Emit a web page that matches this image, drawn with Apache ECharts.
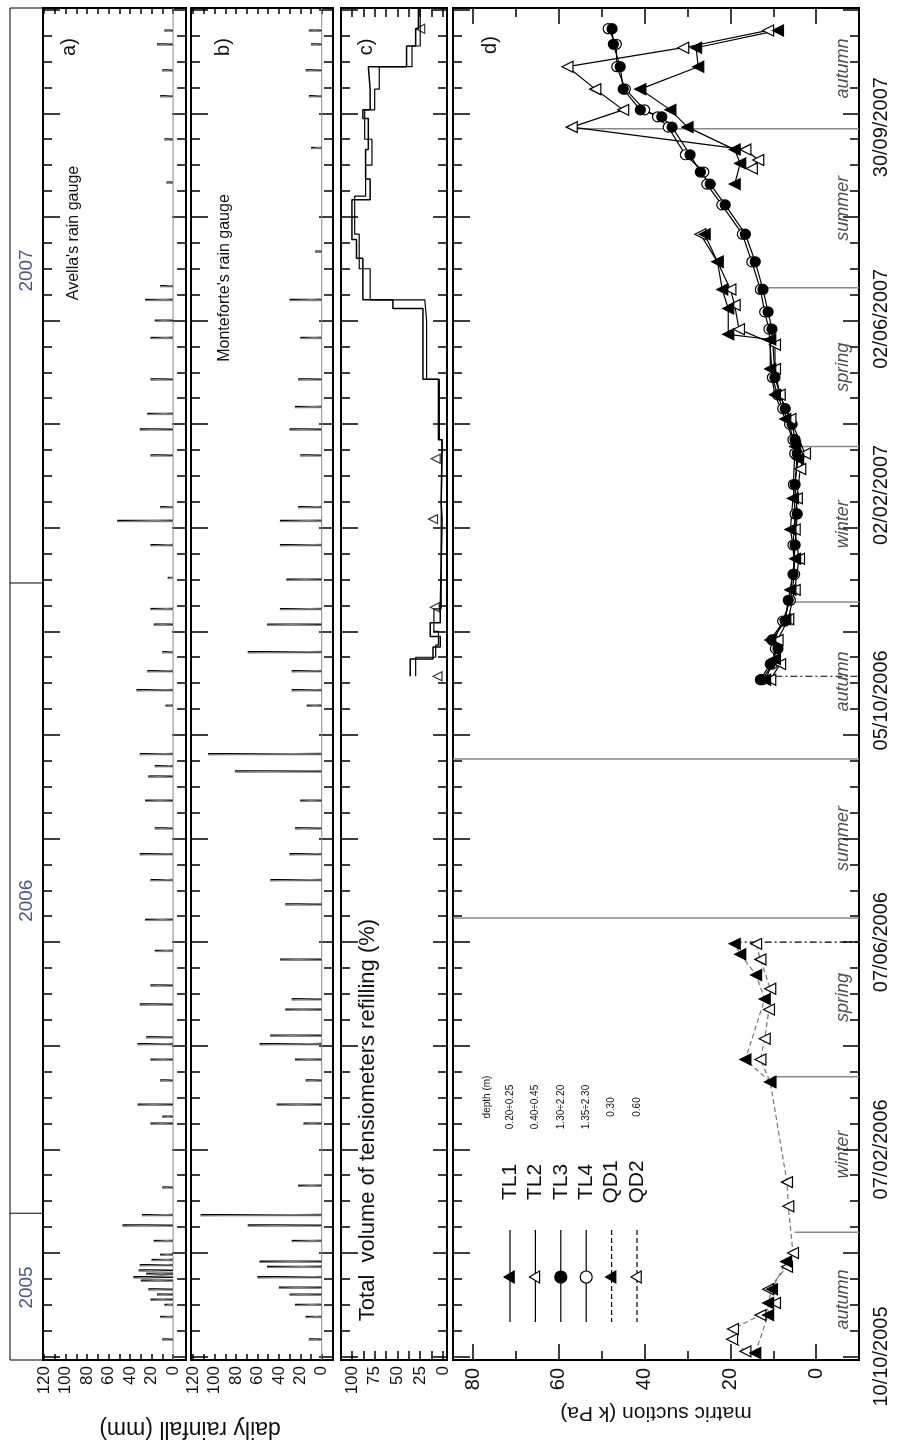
<!DOCTYPE html>
<html>
<head>
<meta charset="utf-8">
<title>Rainfall, refilling and matric suction</title>
<script src="https://cdn.jsdelivr.net/npm/echarts@6/dist/echarts.min.js"></script>
<style>html,body{margin:0;padding:0;background:#fff;} #chart{width:897px;height:1441px;}</style>
</head>
<body>
<div id="chart"></div>
<script>
// ---------------- DATA (days counted from 10/10/2005) ----------------
const dateLabels = ['10/10/2005', '07/02/2006', '07/06/2006', '05/10/2006', '02/02/2007', '02/06/2007', '30/09/2007'];
const dateLabelPos = [0, 120, 240, 380, 499, 601, 712];   // where the printed labels sit on the time axis
const yearNames = ['2005', '2006', '2007'];
const yearBoundaryDays = [83, 448];
const yearLabelDays = [40, 264, 629];
const rainTicks = [0, 20, 40, 60, 80, 100, 120];
const refillTicks = [0, 25, 50, 75, 100];
const suctionTicks = [0, 20, 40, 60, 80];
const seasonNames = ['autumn', 'winter', 'spring', 'summer', 'autumn', 'winter', 'spring', 'summer', 'autumn'];
const seasonMidDays = [33, 117, 208, 300, 391, 482, 573, 665, 746];
const seasonLineDays = [72, 162, 254, 346, 437, 527, 619, 711];
const seasonLineReach = [5, 10, 84.7, 84.7, 6, 5, 13, 57];
const installDays = [240, 394];
const installReach = [19, 13];

// Avella's rain gauge (a)
const avellaDays = [10,23,30,33,36,39,44,46,48,50,53,56,59,67,76,82,98,135,139,146,160,172,181,185,204,215,235,253,276,291,306,322,336,342,349,377,386,397,408,424,433,451,470,484,492,522,537,546,566,590,600,612,620,680,705,730,745,760,768];
const avellaRain = [10,12,8,21,15,23,30,37,25,32,31,20,12,18,47,29,10,21,10,33,12,21,33,25,31,21,17,26,21,31,17,26,23,17,31,7,34,24,10,18,21,5,21,52,12,21,31,24,21,21,17,26,12,6,8,12,10,15,8];
// Monteforte's rain gauge (b)
const montefDays = [10,23,30,36,40,46,52,55,67,76,82,99,135,146,160,172,181,186,201,207,230,262,276,291,306,322,339,349,377,386,397,408,424,433,450,470,484,492,522,537,550,566,590,612,640,700,730,745,760,768];
const montefRain = [12,15,25,30,40,60,51,58,28,69,113,22,17,42,15,25,58,48,34,28,39,34,48,30,25,20,81,106,14,28,28,69,51,39,33,39,39,22,20,30,25,22,20,30,6,10,12,15,10,12];
// total volume of tensiometers refilling (c) : value holds from day[i] to day[i+1]
const refillDays = [394,404,411,417,425,433,485,494,531,566,607,612,636,647,670,682,699,717,722,734,747,759,769,781];
const refillPct  = [36,11,3,14,3,1,2,1,5,22,55,88,95,100,80,85,82,88,80,82,40,30,27];
const refill2Days = [394,405,412,420,433,485,531,566,600,612,630,650,672,690,705,722,734,747,759,781];
const refill2Pct  = [30,8,5,10,2,1,4,18,20,80,92,97,85,78,86,75,70,34,25];
const refillMarkDays = [394,434,485,520,769];
const refillMarkPct  = [6,9,11,8,25];

// matric suction (d)  (null = gap)
const qd1Days = [2,24,31,39,55,null,159,172,207,221,233,239];
const qd1 = [14.2,11.2,11.2,10.3,7,null,10.7,16.5,12,14,17.7,19];
const qd2Days = [3,10,16,24,31,39,52,60,87,101,159,172,184,201,213,230,239];
const qd2 = [16.5,19.6,19.4,13,9.6,11.2,6.8,5.4,6.5,6.8,10.7,13,12,11,10.7,13,14];
const tl1Days = [392,404,415,427,444,462,479,497,520,527,543,557,572,589,592,607,618,634,650,null,679,691,699,712,722,734,747,758,768];
const tl1 = [11.9,9.6,10.7,7.2,6,4.9,6,5.4,4.2,4.9,7.2,9.6,10.7,10.7,20.5,20.5,21.9,23,26,null,19,17.7,19,30,34,41,27.5,28,8.9];
const tl2Days = [392,401,415,427,444,462,479,497,514,523,543,557,572,586,595,609,618,634,650,null,688,693,699,712,722,734,747,758,768];
const tl2 = [10.7,8.4,9,6.5,5,4,5,4.5,3.7,2.6,6,8.5,9.6,9.6,18,19,20,23,27,null,15,13.5,16.5,57,45,51.5,58,31,11.2];
const tl3Days = [392,401,410,415,426,438,453,470,488,505,523,531,540,549,557,567,595,605,618,634,650,667,679,686,696,712,718,722,734,747,760,769];
const tl3 = [13,10.7,8.9,10.3,7.2,6.5,5.4,4.9,4.4,4.9,4.4,4.9,5.6,7.2,8.4,9.6,10.3,11.2,12.4,14.2,16.5,21.2,24.7,27,29.4,33.6,36,41,45,45.7,47.3,47.6];
const tl4Days = [392,401,410,415,426,438,453,470,488,505,523,531,540,549,557,567,595,605,618,634,650,667,679,686,696,712,718,722,734,747,760,769];
const tl4 = [12.5,10.2,9.5,9.8,7.8,6,5,5.4,4.9,5.3,5,5.4,6.2,7.8,9,10.2,11,12,13,15,17.2,22,25.5,26.2,30.5,34.5,37,40,44.5,46.5,46.6,48.5];

const legendNames = ['TL1', 'TL2', 'TL3', 'TL4', 'QD1', 'QD2'];
const legendDepths = ['0.20÷0.25', '0.40÷0.45', '1.30÷2.20', '1.35÷2.30', '0.30', '0.60'];

// ---------------- LAYOUT ----------------
const FONT = 'Liberation Sans, Arial, Helvetica, sans-serif';
const TMIN = -2, TMAX = 781;
const TOP = 8, H = 1352;
const chart = echarts.init(document.getElementById('chart'));

const grids = [
  {left: 10, top: TOP, width: 33, height: H, show: true, borderColor: '#000', borderWidth: 1},
  {left: 43, top: TOP, width: 143, height: H, show: true, borderColor: '#000', borderWidth: 2},
  {left: 191, top: TOP, width: 142, height: H, show: true, borderColor: '#000', borderWidth: 2},
  {left: 341, top: TOP, width: 106, height: H, show: true, borderColor: '#000', borderWidth: 2},
  {left: 453, top: TOP, width: 406, height: H, show: true, borderColor: '#000', borderWidth: 2}
];

function range(a, b, s) { const r = []; for (let v = a; v <= b + 1e-9; v += s) r.push(+v.toFixed(3)); return r; }
const longT = range(0, 780, 60);
const shortT = range(0, 780, 15).filter(d => d % 60 !== 0);

function tAxis(gi, pos, vals, len, extra) {
  return Object.assign({
    gridIndex: gi, type: 'value', min: TMIN, max: TMAX, position: pos,
    axisLine: {show: false, onZero: false}, splitLine: {show: false},
    axisLabel: {show: false},
    axisTick: {show: true, inside: true, length: len, customValues: vals, lineStyle: {color: '#000', width: 1.5}}
  }, extra || {});
}
function vAxis(gi, pos, min, max, ticks, len, labels, extra) {
  return Object.assign({
    gridIndex: gi, type: 'value', inverse: true, min: min, max: max, position: pos,
    axisLine: {show: false, onZero: false}, splitLine: {show: false},
    axisTick: {show: true, inside: true, length: len, customValues: ticks, lineStyle: {color: '#000', width: 1.5}},
    axisLabel: labels ? {show: true, customValues: labels, rotate: 90, fontSize: 17, color: '#111', fontFamily: FONT, margin: 6} : {show: false}
  }, extra || {});
}

const xAxes = [
  {gridIndex: 0, type: 'value', min: 0, max: 1, show: false},
  vAxis(1, 'bottom', -12, 121, range(0, 120, 10), 6, rainTicks),
  vAxis(1, 'top', -12, 121, range(0, 120, 10), 6, null),
  vAxis(2, 'bottom', -10.5, 122, range(0, 120, 10), 6, rainTicks),
  vAxis(2, 'top', -10.5, 122, range(0, 120, 10), 6, null),
  vAxis(3, 'bottom', -4.4, 112, range(0, 100, 12.5), 9, refillTicks),
  vAxis(3, 'top', -4.4, 112, range(0, 100, 12.5), 9, null),
  vAxis(4, 'bottom', -10, 84.7, [0, 20, 40, 60, 80], 16, suctionTicks, {
    name: 'matric suction (k Pa)', nameLocation: 'middle', nameGap: 42, nameRotate: 180,
    nameTextStyle: {fontSize: 21, color: '#111', fontFamily: FONT}
  }),
  vAxis(4, 'bottom', -10, 84.7, [10, 30, 50, 70], 9, null),
  vAxis(4, 'top', -10, 84.7, [0, 20, 40, 60, 80], 16, null),
  vAxis(4, 'top', -10, 84.7, [10, 30, 50, 70], 9, null)
];
xAxes[7].axisLabel.fontSize = 20;
xAxes[7].axisLabel.margin = 8;

const yAxes = [{gridIndex: 0, type: 'value', min: TMIN, max: TMAX, show: false}];
for (let g = 1; g <= 4; g++) {
  yAxes.push(tAxis(g, 'left', longT, 17));
  yAxes.push(tAxis(g, 'left', shortT, 9));
  yAxes.push(tAxis(g, 'right', longT, g === 4 ? 16 : 14));
  yAxes.push(tAxis(g, 'right', shortT, 9));
}
// date labels on the right of panel d
yAxes[1 + 3 * 4 + 2].axisLabel = {
  show: true, customValues: dateLabelPos, rotate: 90, fontSize: 20, color: '#111', fontFamily: FONT, margin: 12,
  formatter: v => { const i = dateLabelPos.findIndex(p => Math.abs(p - v) < 0.01); return i >= 0 ? dateLabels[i] : ''; }
};
const yIdx = g => 1 + (g - 1) * 4;

// ---------- helpers ----------
function pairs(days, vals) {
  return days.map((d, i) => (d === null || vals[i] === null) ? ['-', '-'] : [vals[i], d]);
}
function rainOutline(days, vals) {
  const pts = [[0, TMIN]];
  days.forEach((d, i) => { pts.push([0, d - 0.5], [vals[i], d - 0.5], [vals[i], d + 0.5], [0, d + 0.5]); });
  pts.push([0, TMAX]);
  return pts;
}
function stepPts(days, vals) {
  const pts = [];
  for (let i = 0; i < vals.length; i++) { pts.push([vals[i], days[i]], [vals[i], days[i + 1]]); }
  return pts;
}
function barItem(color, width) {
  return function (params, api) {
    const v = api.value(0), d = api.value(1);
    const p0 = api.coord([0, d]), p1 = api.coord([v, d]);
    return {type: 'line', shape: {x1: p0[0], y1: p0[1], x2: p1[0], y2: p1[1]}, style: {stroke: color, lineWidth: width}};
  };
}
function hLineItem(x0fixed) {
  return function (params, api) {
    const d = api.value(1), reach = api.value(0);
    const p0 = api.coord([reach, d]), p1 = api.coord([x0fixed, d]);
    return {type: 'line', shape: {x1: p0[0], y1: p0[1], x2: p1[0], y2: p1[1]}, style: {stroke: '#888', lineWidth: 1.5}};
  };
}

const series = [];
// year strip
series.push({
  type: 'custom', xAxisIndex: 0, yAxisIndex: 0, silent: true,
  data: yearBoundaryDays.map(d => [0, d]),
  renderItem: (p, api) => {
    const a = api.coord([0, api.value(1)]), b = api.coord([1, api.value(1)]);
    return {type: 'line', shape: {x1: a[0], y1: a[1], x2: b[0], y2: b[1]}, style: {stroke: '#000', lineWidth: 1}};
  }
});
series.push({
  type: 'scatter', xAxisIndex: 0, yAxisIndex: 0, symbolSize: 0, silent: true,
  data: yearNames.map((n, i) => ({value: [0.5, yearLabelDays[i]], name: n})),
  label: {show: true, position: 'inside', rotate: 90, formatter: p => p.name, fontSize: 19, color: '#1c2a6b', fontFamily: FONT}
});

// rainfall panels
[[1, avellaDays, avellaRain], [2, montefDays, montefRain]].forEach(([g, days, vals]) => {
  series.push({
    type: 'line', xAxisIndex: 2 * g - 1, yAxisIndex: yIdx(g), data: rainOutline(days, vals),
    symbol: 'none', lineStyle: {color: '#888', width: 1}, silent: true, animation: false
  });
  series.push({
    type: 'custom', xAxisIndex: 2 * g - 1, yAxisIndex: yIdx(g), data: pairs(days, vals),
    encode: {x: 0, y: 1}, renderItem: barItem('#000', 2), silent: true, animation: false
  });
});

// refilling panel
series.push({
  type: 'line', xAxisIndex: 5, yAxisIndex: yIdx(3), data: stepPts(refill2Days, refill2Pct),
  symbol: 'none', lineStyle: {color: '#000', width: 1.2}, silent: true, animation: false
});
series.push({
  type: 'line', xAxisIndex: 5, yAxisIndex: yIdx(3), data: stepPts(refillDays, refillPct),
  symbol: 'none', lineStyle: {color: '#000', width: 1.5}, silent: true, animation: false
});
series.push({
  type: 'scatter', xAxisIndex: 5, yAxisIndex: yIdx(3), data: pairs(refillMarkDays, refillMarkPct),
  symbol: 'triangle', symbolSize: 9, symbolRotate: 90, silent: true, animation: false,
  itemStyle: {color: '#fff', borderColor: '#000', borderWidth: 1.2}
});

// suction panel: season lines, install lines
series.push({
  type: 'custom', xAxisIndex: 7, yAxisIndex: yIdx(4), data: seasonLineDays.map((d, i) => [seasonLineReach[i], d]),
  encode: {x: 0, y: 1}, renderItem: hLineItem(-10), silent: true, animation: false
});
series.push({
  type: 'custom', xAxisIndex: 7, yAxisIndex: yIdx(4), data: installDays.map((d, i) => [installReach[i], d]),
  encode: {x: 0, y: 1}, silent: true, animation: false,
  renderItem: (p, api) => {
    const a = api.coord([api.value(0), api.value(1)]), b = api.coord([-10, api.value(1)]);
    return {type: 'line', shape: {x1: a[0], y1: a[1], x2: b[0], y2: b[1]}, style: {stroke: '#000', lineWidth: 1.2, lineDash: [7, 3, 2, 3]}};
  }
});
series.push({
  type: 'scatter', xAxisIndex: 7, yAxisIndex: yIdx(4), symbolSize: 0, silent: true,
  data: seasonNames.map((n, i) => ({value: [-6.3, seasonMidDays[i]], name: n})),
  label: {show: true, position: 'inside', rotate: 90, formatter: p => p.name, fontSize: 18, fontStyle: 'italic', color: '#222', fontFamily: FONT}
});

function sensor(days, vals, symbol, filled, dashed) {
  return {
    type: 'line', xAxisIndex: 7, yAxisIndex: yIdx(4), data: pairs(days, vals), connectNulls: false,
    symbol: symbol, symbolSize: symbol === 'circle' ? 10 : 11, symbolRotate: symbol === 'triangle' ? 90 : 0,
    showAllSymbol: true, animation: false, silent: true,
    lineStyle: {color: dashed ? '#777' : '#000', width: 1.2, type: dashed ? [5, 3] : 'solid'},
    itemStyle: {color: filled ? '#000' : '#fff', borderColor: '#000', borderWidth: 1.2}
  };
}
series.push(sensor(qd2Days, qd2, 'triangle', false, true));
series.push(sensor(qd1Days, qd1, 'triangle', true, true));
series.push(sensor(tl4Days, tl4, 'circle', false, false));
series.push(sensor(tl3Days, tl3, 'circle', true, false));
series.push(sensor(tl2Days, tl2, 'triangle', false, false));
series.push(sensor(tl1Days, tl1, 'triangle', true, false));

// ---------- annotation graphics ----------
const graphics = [];
function vtext(x, y, text, size, extra) {
  graphics.push({type: 'text', x: x, y: y, rotation: Math.PI / 2, silent: true,
    style: Object.assign({text: text, fontSize: size, fontFamily: FONT, fill: '#111', align: 'center', verticalAlign: 'middle'}, extra || {})});
}
vtext(69, 47, 'a)', 20);
vtext(223, 47, 'b)', 20);
vtext(366, 47, 'c)', 20);
vtext(490, 45, 'd)', 20);
vtext(74, 233, "Avella's rain gauge", 16);
vtext(225, 278, "Monteforte's rain gauge", 16);
vtext(368, 1120, 'Total  volume of tensiometers refilling (%)', 22);
graphics.push({type: 'text', x: 190, y: 1428, rotation: Math.PI, silent: true,
  style: {text: 'daily rainfall (mm)', fontSize: 23, fontFamily: FONT, fill: '#111', align: 'center', verticalAlign: 'middle'}});
// legend
vtext(487, 1097, 'depth (m)', 10);
legendNames.forEach((n, i) => {
  const x = 510 + 25.4 * i;
  const dashed = i >= 4;
  graphics.push({type: 'line', silent: true, shape: {x1: x, y1: 1230, x2: x, y2: 1322},
    style: {stroke: '#000', lineWidth: 1.2, lineDash: dashed ? [5, 3] : null}});
  const filled = (i === 0 || i === 2 || i === 4);
  if (i === 2 || i === 3) {
    graphics.push({type: 'circle', silent: true, shape: {cx: x, cy: 1277, r: 6}, style: {fill: filled ? '#000' : '#fff', stroke: '#000', lineWidth: 1.2}});
  } else {
    const s = 6;
    graphics.push({type: 'polygon', silent: true, shape: {points: [[x - s, 1277], [x + s * 0.7, 1277 - s], [x + s * 0.7, 1277 + s]]},
      style: {fill: filled ? '#000' : '#fff', stroke: '#000', lineWidth: 1.2}});
  }
  vtext(x, 1182, n, 21);
  vtext(x, 1107, legendDepths[i], 10);
});

chart.setOption({
  animation: false,
  backgroundColor: '#fff',
  textStyle: {fontFamily: FONT},
  grid: grids,
  xAxis: xAxes,
  yAxis: yAxes,
  series: series,
  graphic: graphics
});
</script>
</body>
</html>
